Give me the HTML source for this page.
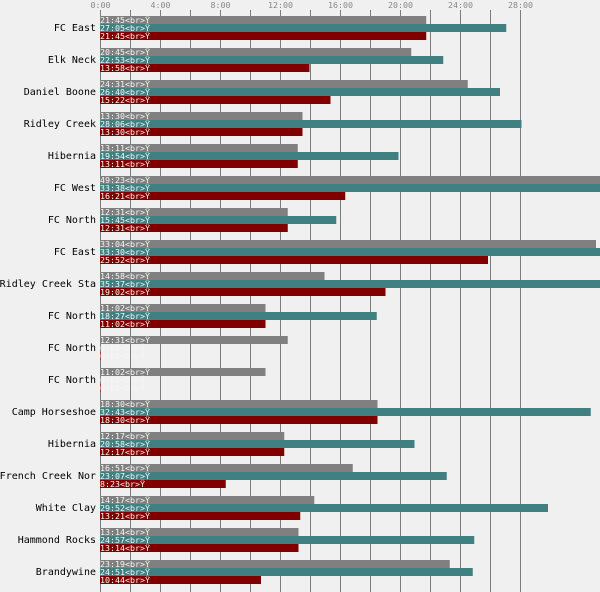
<!DOCTYPE html>
<html>
<head>
<meta charset="utf-8">
<style>
html,body{margin:0;padding:0;background:#f0f0f0;}
svg{display:block;}
.lab{font-family:"DejaVu Sans Mono","Liberation Mono",monospace;font-size:10px;fill:#000;}
.ax{font-family:"DejaVu Sans Mono","Liberation Mono",monospace;font-size:8.3px;fill:#888;}
.bt{font-family:"DejaVu Sans Mono","Liberation Mono",monospace;font-size:8.3px;fill:#f6f6f6;}
</style>
</head>
<body>
<svg id="c" width="600" height="592" xmlns="http://www.w3.org/2000/svg">
<rect width="600" height="592" fill="#f0f0f0"/>
<g id="grid"></g>
<g id="bars"></g>
</svg>
<script>
var data=[
["FC East","21:45","27:05","21:45"],
["Elk Neck","20:45","22:53","13:58"],
["Daniel Boone","24:31","26:40","15:22"],
["Ridley Creek","13:30","28:06","13:30"],
["Hibernia","13:11","19:54","13:11"],
["FC West","49:23","33:38","16:21"],
["FC North","12:31","15:45","12:31"],
["FC East","33:04","33:30","25:52"],
["Ridley Creek Sta","14:58","35:37","19:02"],
["FC North","11:02","18:27","11:02"],
["FC North","12:31","0:00","0:00"],
["FC North","11:02","0:00","0:00"],
["Camp Horseshoe","18:30","32:43","18:30"],
["Hibernia","12:17","20:58","12:17"],
["French Creek Nor","16:51","23:07","8:23"],
["White Clay","14:17","29:52","13:21"],
["Hammond Rocks","13:14","24:57","13:14"],
["Brandywine","23:19","24:51","10:44"]
];
var NS="http://www.w3.org/2000/svg";
function el(t,a,txt){var e=document.createElementNS(NS,t);for(var k in a)e.setAttribute(k,a[k]);if(txt!==undefined)e.textContent=txt;return e;}
var g=document.getElementById("grid");
for(var k=0;k<=14;k++){
  var x=100+30*k;
  g.appendChild(el("rect",{x:x,y:10,width:1,height:582,fill:"#7c7c7c"}));
  if(k%2==0){
    g.appendChild(el("text",{x:x+0.5,y:8,"text-anchor":"middle","class":"ax"},(2*k)+":00"));
  }
}
var b=document.getElementById("bars");
var cols=["#808080","#408080","#800000"];
function mins(s){var p=s.split(":");return +p[0]*60+ +p[1];}
data.forEach(function(d,i){
  var y0=16+32*i;
  b.appendChild(el("text",{x:96,y:y0+15,"text-anchor":"end","class":"lab"},d[0]));
  for(var j=0;j<3;j++){
    var y=y0+8*j;
    var w=Math.min(mins(d[j+1])*0.25,500);
    if(w>0){
      b.appendChild(el("rect",{x:100,y:y,width:w,height:8,fill:cols[j]}));
    } else if(j==2){
      b.appendChild(el("rect",{x:100,y:y,width:1,height:8,fill:"#a04040"}));
    }
    b.appendChild(el("text",{x:100,y:y+7,"class":"bt"},d[j+1]+"<br>\u0178"));
  }
});
</script>
</body>
</html>
